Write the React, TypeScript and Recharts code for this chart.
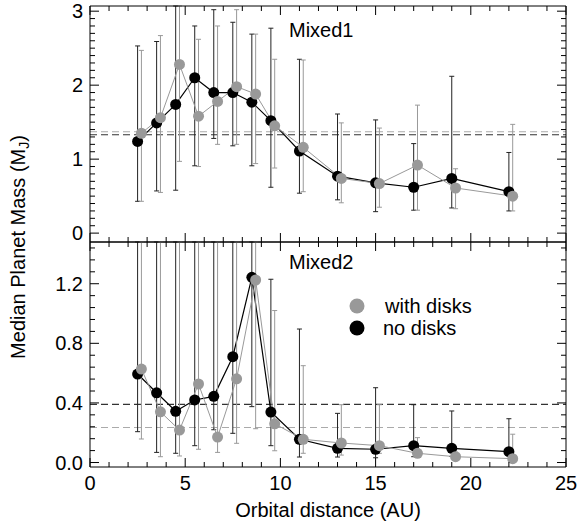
import React from 'react';
import { ComposedChart, Line, ErrorBar, XAxis, YAxis, ReferenceLine, Legend } from 'recharts';

// orbital distance (AU) of each bin, "no disks" and "with disks" are offset a little
const distNoDisks = [2.5, 3.5, 4.5, 5.5, 6.5, 7.5, 8.5, 9.5, 11, 13, 15, 17, 19, 22];
const distWithDisks = [2.7, 3.7, 4.7, 5.7, 6.7, 7.7, 8.7, 9.7, 11.2, 13.2, 15.2, 17.2, 19.2, 22.2];

// Mixed1 — median planet mass (MJ) and error range
const m1NoDisks = [1.24, 1.49, 1.74, 2.1, 1.9, 1.9, 1.77, 1.52, 1.11, 0.77, 0.68, 0.62, 0.74, 0.56];
const m1NoDisksLow = [0.43, 0.57, 0.58, 0.91, 1.28, 1.18, 0.91, 0.62, 0.54, 0.45, 0.29, 0.31, 0.34, 0.3];
const m1NoDisksHigh = [2.53, 2.59, 3.3, 2.8, 3.02, 2.85, 2.69, 2.77, 2.35, 1.61, 1.53, 1.21, 2.12, 1.09];
const m1WithDisks = [1.35, 1.56, 2.28, 1.58, 1.78, 1.98, 1.88, 1.45, 1.16, 0.74, 0.67, 0.92, 0.61, 0.5];
const m1WithDisksLow = [0.43, 0.55, 0.97, 0.9, 1.2, 1.2, 0.94, 0.88, 0.56, 0.41, 0.35, 0.31, 0.33, 0.3];
const m1WithDisksHigh = [2.47, 2.67, 3.3, 2.62, 2.8, 3.02, 2.69, 2.35, 2.34, 1.49, 1.42, 1.73, 0.87, 1.47];
const m1MedianNoDisks = 1.33;
const m1MedianWithDisks = 1.37;

// Mixed2
const m2NoDisks = [0.594, 0.468, 0.344, 0.42, 0.444, 0.71, 1.243, 0.339, 0.156, 0.095, 0.089, 0.113, 0.095, 0.073];
const m2NoDisksLow = [0.207, 0.068, 0.062, 0.113, 0.22, 0.196, 0.375, 0.113, 0.037, 0.037, 0.032, 0.039, 0.041, 0.048];
const m2NoDisksHigh = [1.6, 1.6, 1.6, 1.6, 1.6, 1.6, 1.6, 1.23, 0.896, 0.33, 0.502, 0.388, 0.346, 0.294];
const m2WithDisks = [0.627, 0.34, 0.218, 0.527, 0.171, 0.562, 1.225, 0.26, 0.156, 0.131, 0.113, 0.062, 0.039, 0.026];
const m2WithDisksLow = [0.158, 0.039, 0.044, 0.089, 0.068, 0.129, 0.227, 0.079, 0.062, 0.05, 0.062, 0.044, 0.02, 0.017];
const m2WithDisksHigh = [1.6, 1.6, 1.6, 1.6, 1.6, 1.6, 1.6, 1.02, 0.65, 0.388, 0.388, 0.167, 0.07, 0.19];
const m2MedianNoDisks = 0.39;
const m2MedianWithDisks = 0.235;

const xMajor = [0, 5, 10, 15, 20, 25];
const m1Major = [0, 1, 2, 3];
const m2Major = [0, 0.4, 0.8, 1.2];

const xTicks = Array.from({ length: 26 }, (_, i) => i);
const m1Ticks = Array.from({ length: 31 }, (_, i) => i / 10);
const m2Ticks = Array.from({ length: 19 }, (_, i) => Math.round(i * 8) / 100);

const FONT = '"Liberation Sans", Arial, Helvetica, sans-serif';
const W = 577;
const H = 527;
const SPLIT = 242;

// error bars are cut at the top of the panel, like the original plot
const rows = (xs: number[], mid: number[], lo: number[], hi: number[], top: number) =>
  xs.map((x, i) => ({ x, y: mid[i], err: [mid[i] - lo[i], Math.min(hi[i], top) - mid[i]] }));

const isMajor = (v: number, majors: number[]) => majors.some((m) => Math.abs(m - v) < 1e-6);

const Tick = (props: any) => {
  const { x, y, payload, side, majors, labels, digits } = props;
  const v = payload.value;
  const major = isMajor(v, majors);
  const len = major ? 9 : 5;
  let line;
  if (side === 'left') line = <line x1={x} y1={y} x2={x + len} y2={y} />;
  else if (side === 'right') line = <line x1={x} y1={y} x2={x - len} y2={y} />;
  else if (side === 'top') line = <line x1={x} y1={y} x2={x} y2={y + len} />;
  else line = <line x1={x} y1={y} x2={x} y2={y - len} />;
  return (
    <g>
      <g stroke="#000" strokeWidth={1}>{line}</g>
      {labels && major && side === 'left' && (
        <text x={x - 7} y={y + 7} textAnchor="end" fontSize={20} fontFamily={FONT} fill="#000">
          {v.toFixed(digits)}
        </text>
      )}
      {labels && major && side === 'bottom' && (
        <text x={x} y={y + 23} textAnchor="middle" fontSize={20} fontFamily={FONT} fill="#000">
          {v.toFixed(0)}
        </text>
      )}
    </g>
  );
};

const LegendBox = (props: any) => {
  const order = ['with disks', 'no disks'];
  const items = [...(props.payload || [])].sort((a, b) => order.indexOf(a.value) - order.indexOf(b.value));
  return (
    <svg width={160} height={50}>
      {items.map((it, i) => (
        <g key={it.value}>
          <circle cx={12} cy={14 + i * 22} r={7.5} fill={it.color} />
          <text x={40 - i * 2} y={21 + i * 22} fontSize={20} fontFamily={FONT} fill="#000">
            {it.value}
          </text>
        </g>
      ))}
    </svg>
  );
};

const axisCommon = { allowDataOverflow: true, interval: 0 as const, tickSize: 0, tickMargin: 0, stroke: '#000' };

const Panel = ({ margin, domain, ticks, majors, digits, noDisks, withDisks, medNo, medWith, showX, legend }: any) => (
  <div style={{ position: 'absolute', left: 0, top: 0 }}>
    <ComposedChart width={W} height={H} margin={margin}>
      <XAxis
        xAxisId="b" type="number" dataKey="x" domain={[0, 25]} ticks={xTicks} height={1}
        orientation="bottom" {...axisCommon}
        tick={(p: any) => <Tick {...p} side="bottom" majors={xMajor} labels={showX} />}
      />
      <XAxis
        xAxisId="t" type="number" dataKey="x" domain={[0, 25]} ticks={xTicks} height={1}
        orientation="top" {...axisCommon}
        tick={(p: any) => <Tick {...p} side="top" majors={xMajor} />}
      />
      <YAxis
        yAxisId="l" type="number" domain={domain} ticks={ticks} width={1} orientation="left" {...axisCommon}
        tick={(p: any) => <Tick {...p} side="left" majors={majors} labels digits={digits} />}
      />
      <YAxis
        yAxisId="r" type="number" domain={domain} ticks={ticks} width={1} orientation="right" {...axisCommon}
        tick={(p: any) => <Tick {...p} side="right" majors={majors} />}
      />
      <ReferenceLine xAxisId="b" yAxisId="l" y={medNo} stroke="#333" strokeDasharray="7 4" strokeWidth={1.2} />
      <ReferenceLine xAxisId="b" yAxisId="l" y={medWith} stroke="#aaa" strokeDasharray="7 4" strokeWidth={1.2} />
      <Line
        xAxisId="b" yAxisId="l" data={noDisks} dataKey="y" name="no disks" stroke="#000" strokeWidth={1.2}
        dot={{ r: 5.5, fill: '#000', stroke: '#000', strokeWidth: 0 }} isAnimationActive={false} legendType="circle"
      >
        <ErrorBar dataKey="err" direction="y" stroke="#222" strokeWidth={1} width={2.5} isAnimationActive={false} />
      </Line>
      <Line
        xAxisId="b" yAxisId="l" data={withDisks} dataKey="y" name="with disks" stroke="#999" strokeWidth={1}
        dot={{ r: 5.5, fill: '#999', stroke: '#999', strokeWidth: 0 }} isAnimationActive={false} legendType="circle"
      >
        <ErrorBar dataKey="err" direction="y" stroke="#999" strokeWidth={1} width={2.5} isAnimationActive={false} />
      </Line>
      {legend && (
        <Legend
          layout="vertical" align="center" verticalAlign="middle" content={<LegendBox />}
          wrapperStyle={{ position: 'absolute', left: 345, top: 292, width: 170, height: 50 }}
        />
      )}
    </ComposedChart>
  </div>
);

export default function App() {
  return (
    <div style={{ position: 'absolute', left: 0, top: 0, width: W, height: H, background: '#fff' }}>
      <Panel
        margin={{ top: 5, right: 10, bottom: H - SPLIT - 1, left: 89 }}
        domain={[-0.12, 3.07]} ticks={m1Ticks} majors={m1Major} digits={0}
        noDisks={rows(distNoDisks, m1NoDisks, m1NoDisksLow, m1NoDisksHigh, 3.07)}
        withDisks={rows(distWithDisks, m1WithDisks, m1WithDisksLow, m1WithDisksHigh, 3.07)}
        medNo={m1MedianNoDisks} medWith={m1MedianWithDisks}
      />
      <Panel
        margin={{ top: SPLIT - 1, right: 10, bottom: 59, left: 89 }}
        domain={[-0.03, 1.48]} ticks={m2Ticks} majors={m2Major} digits={1}
        noDisks={rows(distNoDisks, m2NoDisks, m2NoDisksLow, m2NoDisksHigh, 1.48)}
        withDisks={rows(distWithDisks, m2WithDisks, m2WithDisksLow, m2WithDisksHigh, 1.48)}
        medNo={m2MedianNoDisks} medWith={m2MedianWithDisks} showX legend
      />
      <svg width={W} height={H} style={{ position: 'absolute', left: 0, top: 0, pointerEvents: 'none' }}>
        <g fontFamily={FONT} fontSize={20} fill="#000">
          <text x={289} y={37}>Mixed1</text>
          <text x={289} y={269}>Mixed2</text>
          <text x={328} y={517} textAnchor="middle">Orbital distance (AU)</text>
          <text transform="translate(25,247) rotate(-90)" textAnchor="middle">
            Median Planet Mass (M<tspan fontSize={14} dy={4}>J</tspan><tspan dy={-4}>)</tspan>
          </text>
        </g>
      </svg>
    </div>
  );
}
